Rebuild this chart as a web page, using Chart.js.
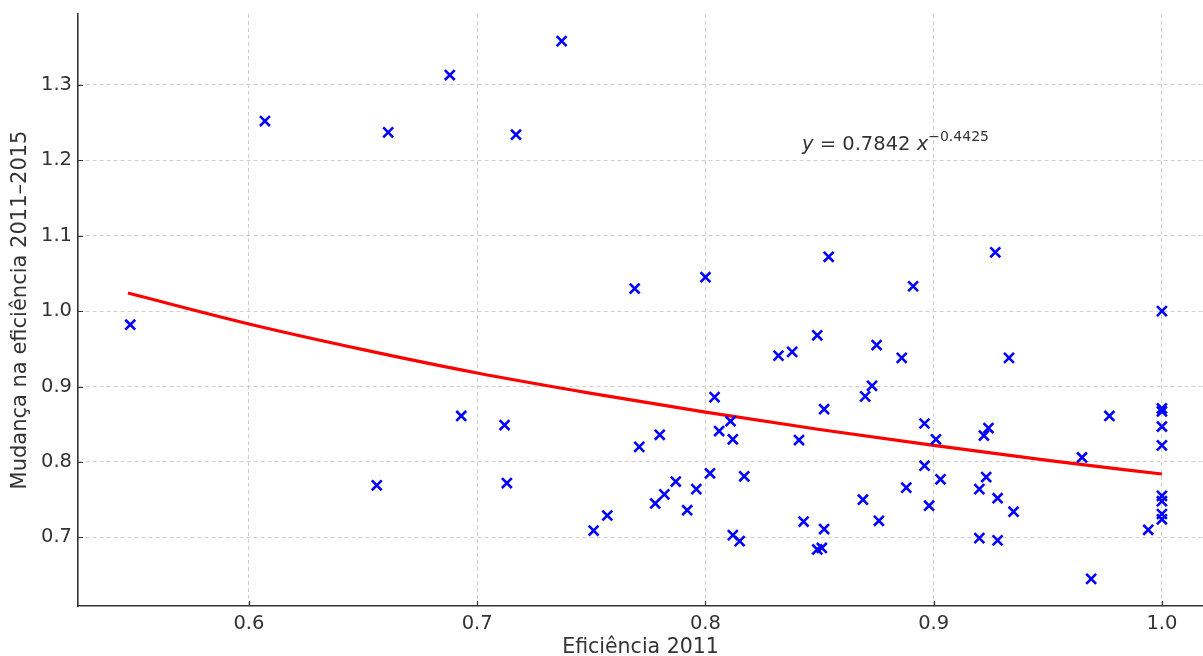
<!DOCTYPE html>
<html>
<head>
<meta charset="utf-8">
<script src="https://cdn.jsdelivr.net/npm/chart.js@4/dist/chart.umd.min.js"></script>
<style>
  html, body { margin: 0; padding: 0; background: #fff; }
</style>
</head>
<body>
<canvas id="grafico" width="1203" height="656"></canvas>
<script>
// eficiência 2011 (x) e mudança 2011-2015 (y)
const eficiencia2011 = [
  0.548, 0.607, 0.661, 0.688, 0.717, 0.737, 0.656, 0.693, 0.712, 0.713,
  0.769, 0.800, 0.854, 0.891, 0.849, 0.832, 0.838, 0.875, 0.886, 0.804,
  0.873, 0.870, 0.852, 0.811, 0.806, 0.812, 0.841, 0.780, 0.771, 0.896,
  0.901, 0.802, 0.817, 0.787, 0.782, 0.778, 0.796, 0.792, 0.757, 0.751,
  0.812, 0.815, 0.843, 0.852, 0.849, 0.851, 0.869, 0.876, 0.896, 0.888,
  0.903, 0.898, 0.927, 1.000, 0.933, 0.922, 0.924, 0.965, 0.977, 1.000,
  1.000, 1.000, 1.000, 0.923, 0.920, 0.928, 0.935, 0.920, 0.928, 0.969,
  0.994, 1.000, 1.000, 1.000, 1.000
];
const mudancaEficiencia = [
  0.982, 1.252, 1.237, 1.313, 1.234, 1.358, 0.769, 0.861, 0.849, 0.772,
  1.030, 1.045, 1.072, 1.033, 0.968, 0.941, 0.946, 0.955, 0.938, 0.886,
  0.901, 0.887, 0.870, 0.854, 0.841, 0.830, 0.829, 0.836, 0.820, 0.851,
  0.830, 0.785, 0.781, 0.774, 0.757, 0.745, 0.764, 0.736, 0.729, 0.709,
  0.703, 0.695, 0.721, 0.711, 0.684, 0.686, 0.750, 0.722, 0.795, 0.766,
  0.777, 0.742, 1.078, 1.000, 0.938, 0.835, 0.845, 0.806, 0.861, 0.871,
  0.867, 0.847, 0.822, 0.780, 0.764, 0.752, 0.734, 0.699, 0.696, 0.645,
  0.710, 0.755, 0.748, 0.731, 0.724
];

// curva ajustada
const curvaX = [0.547, 0.60, 0.65, 0.70, 0.75, 0.80, 0.85, 0.90, 0.95, 1.00];
const curvaY = [1.024, 0.983, 0.949, 0.918, 0.891, 0.866, 0.843, 0.822, 0.802, 0.784];

const coefA = '0.7842';
const coefB = '\u22120.4425';

const ticksX = [0.6, 0.7, 0.8, 0.9, 1.0];
const ticksY = [0.7, 0.8, 0.9, 1.0, 1.1, 1.2, 1.3];

const fonte = '"DejaVu Sans", sans-serif';
const corTexto = '#333';

const pontos = eficiencia2011.map((v, i) => ({ x: v, y: mudancaEficiencia[i] }));
const curva = curvaX.map((v, i) => ({ x: v, y: curvaY[i] }));

// tracinhos para dentro nos eixos
const ticksDentro = {
  id: 'ticksDentro',
  afterDraw(chart) {
    const { ctx, chartArea, scales } = chart;
    ctx.save();
    ctx.strokeStyle = corTexto;
    ctx.lineWidth = 1.2;
    ctx.beginPath();
    ticksX.forEach(v => {
      const px = Math.round(scales.x.getPixelForValue(v)) + 0.5;
      ctx.moveTo(px, chartArea.bottom);
      ctx.lineTo(px, chartArea.bottom - 5);
    });
    ticksY.forEach(v => {
      const py = Math.round(scales.y.getPixelForValue(v)) + 0.5;
      ctx.moveTo(chartArea.left, py);
      ctx.lineTo(chartArea.left + 5, py);
    });
    ctx.stroke();
    ctx.restore();
  }
};

// equação y = a x^b
const equacao = {
  id: 'equacao',
  afterDatasetsDraw(chart) {
    const { ctx, scales } = chart;
    let x = scales.x.getPixelForValue(0.8423);
    const y = scales.y.getPixelForValue(1.2137);
    const partes = [
      { t: 'y', f: 'italic 19.5px ' + fonte, dy: 0 },
      { t: ' = ' + coefA + ' ', f: '19.5px ' + fonte, dy: 0 },
      { t: 'x', f: 'italic 19.5px ' + fonte, dy: 0 },
      { t: coefB, f: '14px ' + fonte, dy: -9 }
    ];
    ctx.save();
    ctx.fillStyle = corTexto;
    ctx.textBaseline = 'alphabetic';
    ctx.textAlign = 'left';
    partes.forEach(p => {
      ctx.font = p.f;
      ctx.fillText(p.t, x, y + p.dy);
      x += ctx.measureText(p.t).width;
    });
    ctx.restore();
  }
};

new Chart(document.getElementById('grafico'), {
  type: 'scatter',
  data: {
    datasets: [
      {
        data: pontos,
        pointStyle: 'crossRot',
        pointRadius: 7,
        pointHoverRadius: 7,
        pointBorderWidth: 2.6,
        borderColor: '#0000ff',
        backgroundColor: '#0000ff',
        order: 1
      },
      {
        type: 'line',
        data: curva,
        borderColor: '#ff0000',
        borderWidth: 3.2,
        pointRadius: 0,
        fill: false,
        cubicInterpolationMode: 'monotone',
        order: 2
      }
    ]
  },
  options: {
    responsive: false,
    animation: false,
    events: [],
    layout: { autoPadding: false, padding: { top: 14, right: 0, bottom: 0, left: 0 } },
    plugins: {
      legend: { display: false },
      tooltip: { enabled: false }
    },
    scales: {
      x: {
        type: 'linear',
        min: 0.5251,
        max: 1.018,
        afterBuildTicks: s => { s.ticks = ticksX.map(v => ({ value: v })); },
        afterFit: s => { s.height = 50; s.paddingLeft = 0; s.paddingRight = 0; },
        grid: { color: '#d0d0d0', lineWidth: 1, drawTicks: false },
        border: { display: true, color: corTexto, width: 1.6, dash: [4, 3] },
        ticks: {
          padding: 6,
          color: corTexto,
          font: { family: fonte, size: 19.5 },
          maxRotation: 0,
          callback: v => v.toFixed(1)
        },
        title: {
          display: true,
          text: 'Eficiência 2011',
          color: corTexto,
          font: { family: fonte, size: 20.5, lineHeight: 1 },
          padding: { top: 0, bottom: -2 }
        }
      },
      y: {
        type: 'linear',
        min: 0.609,
        max: 1.394,
        afterBuildTicks: s => { s.ticks = ticksY.map(v => ({ value: v })); },
        afterFit: s => { s.width = 78; s.paddingTop = 0; s.paddingBottom = 0; },
        grid: { color: '#d0d0d0', lineWidth: 1, drawTicks: false },
        border: { display: true, color: corTexto, width: 1.6, dash: [4, 3] },
        ticks: {
          padding: 6,
          color: corTexto,
          font: { family: fonte, size: 19.5 },
          callback: v => v.toFixed(1)
        },
        title: {
          display: true,
          text: 'Mudança na eficiência 2011–2015',
          color: corTexto,
          font: { family: fonte, size: 21, lineHeight: 1 },
          padding: { top: 10, bottom: 0 }
        }
      }
    }
  },
  plugins: [ticksDentro, equacao]
});
</script>
</body>
</html>
